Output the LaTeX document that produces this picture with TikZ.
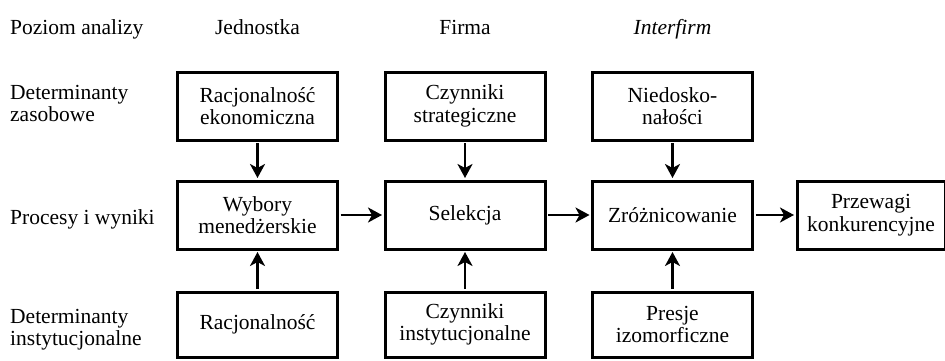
\documentclass[tikz,border=0pt]{standalone}
\usepackage{fontspec}
\setmainfont{Liberation Serif}
\usetikzlibrary{arrows.meta}
\begin{document}
\begin{tikzpicture}[x=1pt,y=1pt,
 box/.style={draw, line width=3pt, minimum width=160pt, minimum height=68pt, align=center, font=\fontsize{21.5}{22.5}\selectfont, inner sep=0pt},
 lab/.style={anchor=west, align=left, font=\fontsize{21.5}{22}\selectfont, inner sep=0pt},
 hdr/.style={font=\fontsize{21.5}{23}\selectfont, inner sep=0pt, anchor=base},
 arr/.style={line width=2.4pt, shorten >=1.5pt, shorten <=1.5pt, -{Stealth[length=14pt,width=15pt,inset=4pt]}}]
\useasboundingbox (0,0) rectangle (945,360);
% headers
\node[hdr, anchor=base west] (h0) at (10,326) {Poziom analizy};
\node[hdr] (h1) at (257.5,326) {Jednostka};
\node[hdr] (h2) at (465,326) {Firma};
\node[hdr] (h3) at (672.5,326) {\textit{Interfirm}};
% row labels
\node[lab] (l1) at (10,257) {Determinanty\\zasobowe};
\node[lab] (l2) at (10,141) {Procesy i wyniki};
\node[lab] (l3) at (10,30) {Determinanty\\instytucjonalne};
% top row
\node[box] (r1) at (257.5,254) {Racjonalność\\ekonomiczna};
\node[box] (c1) at (465,254) {Czynniki\\strategiczne};
\node[box] (n1) at (672.5,254) {Niedosko-\\nałości};
% middle row
\node[box] (w) at (257.5,145) {Wybory\\menedżerskie};
\node[box] (s) at (465,145) {Selekcja};
\node[box] (z) at (672.5,145) {Zróżnicowanie};
\node[box, minimum width=148pt] (p) at (871,145) {Przewagi\\konkurencyjne};
% bottom row
\node[box, minimum height=65pt] (r2) at (257.5,35.5) {Racjonalność};
\node[box, minimum height=65pt] (c2) at (465,35.5) {Czynniki\\instytucjonalne};
\node[box, minimum height=65pt] (p2) at (672.5,35.5) {Presje\\izomorficzne};
% arrows
\draw[arr] (r1) -- (w);
\draw[arr] (c1) -- (s);
\draw[arr] (n1) -- (z);
\draw[arr] (r2) -- (w);
\draw[arr] (c2) -- (s);
\draw[arr] (p2) -- (z);
\draw[arr] (w) -- (s);
\draw[arr] (s) -- (z);
\draw[arr] (z) -- (p);
\end{tikzpicture}
\end{document}
